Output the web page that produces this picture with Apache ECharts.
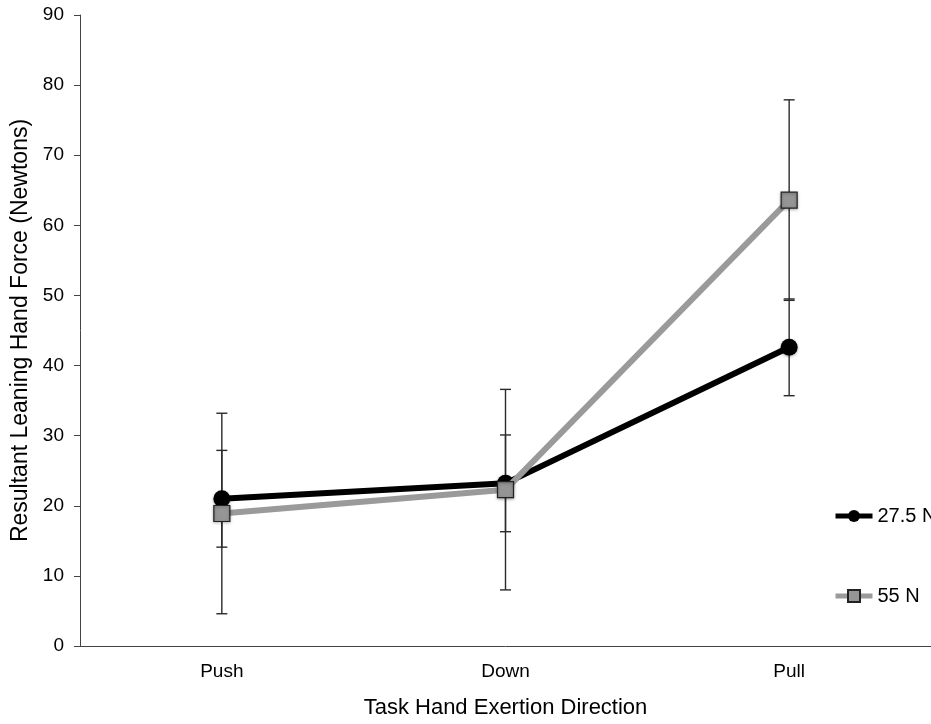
<!DOCTYPE html>
<html>
<head>
<meta charset="utf-8">
<script src="https://cdn.jsdelivr.net/npm/echarts@6/dist/echarts.min.js"></script>
<style>
    html, body { margin: 0; padding: 0; background: #fff; }
    #chart { width: 931px; height: 724px; }
</style>
</head>
<body>
<div id="chart"></div>
<script>
var directions = ['Push', 'Down', 'Pull'];
var mean275 = [21.0, 23.2, 42.6];     // 27.5 N
var mean55 = [18.9, 22.3, 63.6];      // 55 N
var err275 = [6.9, 6.9, 6.9];
var err55 = [14.3, 14.3, 14.3];
var yTicks = [0, 10, 20, 30, 40, 50, 60, 70, 80, 90];

var chart;

function errorData(means, errs) {
    var list = [];
    for (var i = 0; i < means.length; i++) {
        list.push([i, means[i] - errs[i], means[i] + errs[i]]);
    }
    return list;
}

function renderErrorBar(params, api) {
    var idx = api.value(0);
    var lo = api.coord([idx, api.value(1)]);
    var hi = api.coord([idx, api.value(2)]);
    var half = 5.5;
    var style = { stroke: '#2a2a2a', lineWidth: 1.4 };
    return {
        type: 'group',
        children: [
            { type: 'line', shape: { x1: lo[0], y1: lo[1], x2: hi[0], y2: hi[1] }, style: style },
            { type: 'line', shape: { x1: lo[0] - half, y1: lo[1], x2: lo[0] + half, y2: lo[1] }, style: style },
            { type: 'line', shape: { x1: hi[0] - half, y1: hi[1], x2: hi[0] + half, y2: hi[1] }, style: style }
        ]
    };
}

function initChart() {
    var option = {
        animation: false,
        backgroundColor: '#fff',
        textStyle: { fontFamily: 'Liberation Sans, Arial, sans-serif', color: '#000' },
        grid: {
            left: 80,
            top: 15,
            width: 862,
            height: 640
        },
        legend: {
            orient: 'vertical',
            left: 828,
            top: 501,
            itemGap: 60,
            itemWidth: 37,
            itemHeight: 15,
            lineStyle: { width: 5 },
            textStyle: { fontSize: 20, color: '#000' },
            data: ['27.5 N', '55 N']
        },
        xAxis: {
            type: 'category',
            data: directions,
            boundaryGap: true,
            name: 'Task Hand Exertion Direction',
            nameLocation: 'middle',
            nameGap: 51,
            nameTextStyle: { fontSize: 22, color: '#000' },
            axisLine: { lineStyle: { color: '#444', width: 1 } },
            axisTick: { alignWithLabel: true, length: 5, lineStyle: { color: '#444' } },
            axisLabel: { fontSize: 19, color: '#000', margin: 16 }
        },
        yAxis: {
            type: 'value',
            min: 0,
            max: 90,
            interval: 10,
            name: 'Resultant Leaning Hand Force (Newtons)',
            nameLocation: 'middle',
            nameGap: 44,
            nameTextStyle: { fontSize: 23, color: '#000' },
            splitLine: { show: false },
            axisLine: { show: true, lineStyle: { color: '#444', width: 1 } },
            axisTick: { show: true, length: 6, lineStyle: { color: '#444' } },
            axisLabel: {
                fontSize: 19,
                color: '#000',
                margin: 16,
                formatter: function (v) {
                    return yTicks.indexOf(v) >= 0 ? String(v) : '';
                }
            }
        },
        series: [
            {
                name: 'err 27.5',
                type: 'custom',
                renderItem: renderErrorBar,
                data: errorData(mean275, err275),
                z: 1
            },
            {
                name: 'err 55',
                type: 'custom',
                renderItem: renderErrorBar,
                data: errorData(mean55, err55),
                z: 1
            },
            {
                name: '27.5 N',
                type: 'line',
                data: mean275,
                symbol: 'circle',
                symbolSize: 17,
                z: 3,
                lineStyle: { color: '#000', width: 6 },
                itemStyle: {
                    color: '#000',
                    shadowBlur: 3,
                    shadowColor: 'rgba(0,0,0,0.35)',
                    shadowOffsetY: 1
                }
            },
            {
                name: '55 N',
                type: 'line',
                data: mean55,
                symbol: 'rect',
                symbolSize: 16,
                z: 4,
                lineStyle: { color: '#9a9a9a', width: 6 },
                itemStyle: {
                    color: '#959595',
                    borderColor: '#222',
                    borderWidth: 1.2,
                    shadowBlur: 3,
                    shadowColor: 'rgba(0,0,0,0.35)',
                    shadowOffsetY: 1
                }
            }
        ]
    };
    chart = echarts.init(document.getElementById('chart'));
    chart.setOption(option);
}

initChart();
</script>
</body>
</html>
